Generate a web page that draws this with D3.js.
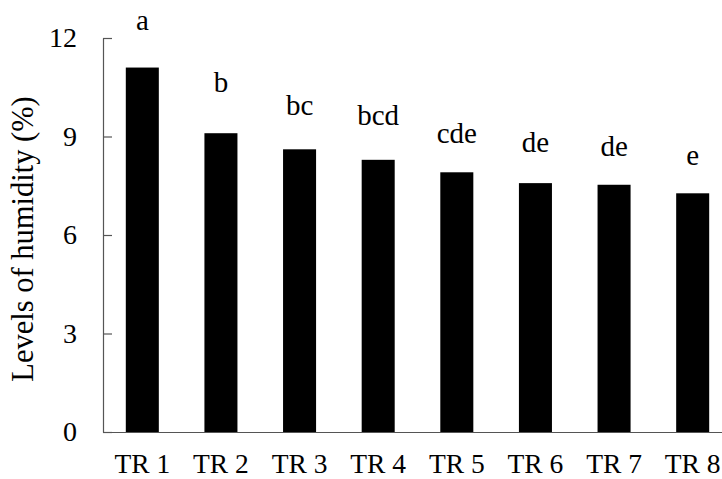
<!DOCTYPE html>
<html>
<head>
<meta charset="utf-8">
<script src="https://cdn.jsdelivr.net/npm/d3@7"></script>
<style>
  html, body { margin: 0; padding: 0; background: #fff; }
</style>
</head>
<body>
<div id="chart"></div>
<script>
// Humidity by treatment — bars with significance letters above
const treatments = ['TR 1', 'TR 2', 'TR 3', 'TR 4', 'TR 5', 'TR 6', 'TR 7', 'TR 8'];
const humidity   = [11.10, 9.10, 8.61, 8.29, 7.91, 7.58, 7.53, 7.27];
const letterAt   = [12.24, 10.36, 9.66, 9.35, 8.79, 8.52, 8.41, 8.13];
const letters    = ['a', 'b', 'bc', 'bcd', 'cde', 'de', 'de', 'e'];
const yTicks     = [0, 3, 6, 9, 12];

const W = 722, H = 479;
const axisColor = '#555';
const serif = "'Liberation Serif', serif";

const svg = d3.select('#chart').append('svg')
  .attr('width', W).attr('height', H)
  .attr('font-family', serif);

const x = d3.scaleBand()
  .domain(treatments)
  .range([103, 732])          // plot runs past the right edge, as in the source
  .paddingInner(0.58)
  .paddingOuter(0.29);

const y = d3.scaleLinear().domain([0, 12]).range([432, 38]);

// bars
svg.append('g').selectAll('rect')
  .data(treatments)
  .join('rect')
  .attr('x', d => x(d))
  .attr('y', (d, i) => y(humidity[i]))
  .attr('width', x.bandwidth())
  .attr('height', (d, i) => y(0) - y(humidity[i]))
  .attr('fill', '#000');

// y axis, ticks pointing inward
const yAxis = svg.append('g')
  .attr('transform', 'translate(103,0)')
  .call(d3.axisLeft(y).tickValues(yTicks).tickSizeInner(-9).tickSizeOuter(0).tickPadding(26))
  .attr('font-family', serif)
  .attr('font-size', 28);
yAxis.select('.domain').attr('stroke', axisColor).attr('stroke-width', 1.2);
yAxis.selectAll('.tick line').attr('stroke', axisColor).attr('stroke-width', 1.2);
yAxis.selectAll('.tick text').attr('fill', '#000');

// x axis: baseline only, no tick marks
const xAxis = svg.append('g')
  .attr('transform', 'translate(0,432)')
  .call(d3.axisBottom(x).tickSize(0).tickSizeOuter(0))
  .attr('font-family', serif)
  .attr('font-size', 27.5);
xAxis.select('.domain').attr('stroke', axisColor).attr('stroke-width', 1.2);
xAxis.selectAll('.tick text')
  .attr('y', 41).attr('dy', 0)
  .attr('fill', '#000');

// significance letters
svg.append('g').selectAll('text')
  .data(treatments)
  .join('text')
  .attr('x', d => x(d) + x.bandwidth() / 2)
  .attr('y', (d, i) => y(letterAt[i]))
  .attr('text-anchor', 'middle')
  .attr('font-size', 29)
  .attr('fill', '#000')
  .text((d, i) => letters[i]);

// y title
svg.append('text')
  .attr('transform', `translate(33,${(y(0) + y(12)) / 2 + 4}) rotate(-90)`)
  .attr('text-anchor', 'middle')
  .attr('font-size', 30.5)
  .attr('fill', '#000')
  .text('Levels of humidity (%)');
</script>
</body>
</html>
